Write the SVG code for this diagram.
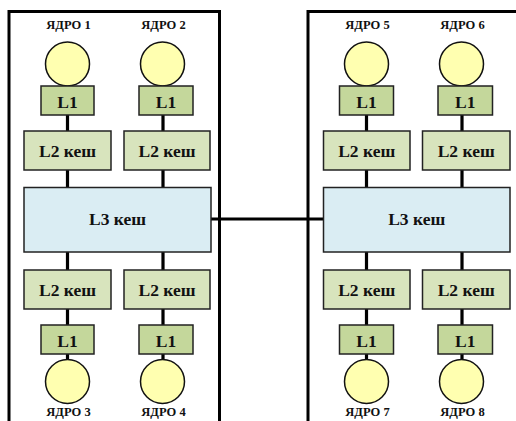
<svg xmlns="http://www.w3.org/2000/svg" width="516" height="421" viewBox="0 0 516 421">
<style>
.frame{fill:none;stroke:#000;stroke-width:3}
.core{fill:#ffffb0;stroke:#111;stroke-width:1.5}
.l1{fill:#c4d79b;stroke:#222;stroke-width:1.5}
.l2{fill:#d8e4bd;stroke:#222;stroke-width:1.5}
.l3{fill:#daedf3;stroke:#222;stroke-width:1.5}
.wire{stroke:#000;stroke-width:3.2;fill:none}
text{font-weight:bold;fill:#111;text-anchor:middle}
.lbl{font-size:12.5px}
.t{font-size:17.5px}
</style>
<rect class="frame" x="9" y="11.5" width="210.5" height="430"/>
<rect class="frame" x="308" y="11.5" width="230" height="430"/>
<g id="connectors">
<path class="wire" d="M67.5 86V131M67.5 170V188M67.5 252V270M67.5 309V359"/>
<path class="wire" d="M163 86V131M163 170V188M163 252V270M163 309V359"/>
<path class="wire" d="M366.5 86V131M366.5 170V188M366.5 252V270M366.5 309V359"/>
<path class="wire" d="M462 86V131M462 170V188M462 252V270M462 309V359"/>
<path class="wire" d="M211 219H323"/>
</g>
<g font-family="'Liberation Serif', 'DejaVu Serif', serif">
<g id="core1"><circle class="core" cx="67.5" cy="64" r="22"/><text class="lbl" x="68.5" y="29">ЯДРО 1</text></g>
<g id="core2"><circle class="core" cx="162.5" cy="64" r="22"/><text class="lbl" x="163.5" y="29">ЯДРО 2</text></g>
<g id="core5"><circle class="core" cx="366.5" cy="64" r="22"/><text class="lbl" x="367.5" y="29">ЯДРО 5</text></g>
<g id="core6"><circle class="core" cx="461.5" cy="64" r="22"/><text class="lbl" x="462.5" y="29">ЯДРО 6</text></g>
<g id="core3"><circle class="core" cx="67.5" cy="381.5" r="22"/><text class="lbl" x="68.5" y="416">ЯДРО 3</text></g>
<g id="core4"><circle class="core" cx="162.5" cy="381.5" r="22"/><text class="lbl" x="163.5" y="416">ЯДРО 4</text></g>
<g id="core7"><circle class="core" cx="366.5" cy="381.5" r="22"/><text class="lbl" x="367.5" y="416">ЯДРО 7</text></g>
<g id="core8"><circle class="core" cx="461.5" cy="381.5" r="22"/><text class="lbl" x="462.5" y="416">ЯДРО 8</text></g>
<g id="l1-1"><rect class="l1" x="41" y="86" width="53" height="29"/><text class="t" x="67.5" y="107.5">L1</text></g>
<g id="l1-2"><rect class="l1" x="139" y="86" width="54" height="29"/><text class="t" x="166" y="107.5">L1</text></g>
<g id="l1-5"><rect class="l1" x="339.5" y="86" width="54" height="29"/><text class="t" x="366.5" y="107.5">L1</text></g>
<g id="l1-6"><rect class="l1" x="438" y="86" width="54.5" height="29"/><text class="t" x="465.3" y="107.5">L1</text></g>
<g id="l1-3"><rect class="l1" x="41" y="325" width="53" height="29"/><text class="t" x="67.5" y="346.5">L1</text></g>
<g id="l1-4"><rect class="l1" x="139" y="325" width="54" height="29"/><text class="t" x="166" y="346.5">L1</text></g>
<g id="l1-7"><rect class="l1" x="339.5" y="325" width="54" height="29"/><text class="t" x="366.5" y="346.5">L1</text></g>
<g id="l1-8"><rect class="l1" x="438" y="325" width="54.5" height="29"/><text class="t" x="465.3" y="346.5">L1</text></g>
<g id="l2-1"><rect class="l2" x="24" y="131" width="87" height="39"/><text class="t" x="67.5" y="157">L2 кеш</text></g>
<g id="l2-2"><rect class="l2" x="124" y="131" width="86" height="39"/><text class="t" x="167" y="157">L2 кеш</text></g>
<g id="l2-5"><rect class="l2" x="323.5" y="131" width="86.5" height="39"/><text class="t" x="366.7" y="157">L2 кеш</text></g>
<g id="l2-6"><rect class="l2" x="422.5" y="131" width="87.5" height="39"/><text class="t" x="466.2" y="157">L2 кеш</text></g>
<g id="l2-3"><rect class="l2" x="24" y="270" width="87" height="39"/><text class="t" x="67.5" y="296">L2 кеш</text></g>
<g id="l2-4"><rect class="l2" x="124" y="270" width="86" height="39"/><text class="t" x="167" y="296">L2 кеш</text></g>
<g id="l2-7"><rect class="l2" x="323.5" y="270" width="86.5" height="39"/><text class="t" x="366.7" y="296">L2 кеш</text></g>
<g id="l2-8"><rect class="l2" x="422.5" y="270" width="87.5" height="39"/><text class="t" x="466.2" y="296">L2 кеш</text></g>
<g id="l3-left"><rect class="l3" x="24" y="187.5" width="187" height="64.5"/><text class="t" x="117.5" y="225">L3 кеш</text></g>
<g id="l3-right"><rect class="l3" x="323.5" y="187.5" width="186.5" height="64.5"/><text class="t" x="416.7" y="225">L3 кеш</text></g>
</g>
</svg>
